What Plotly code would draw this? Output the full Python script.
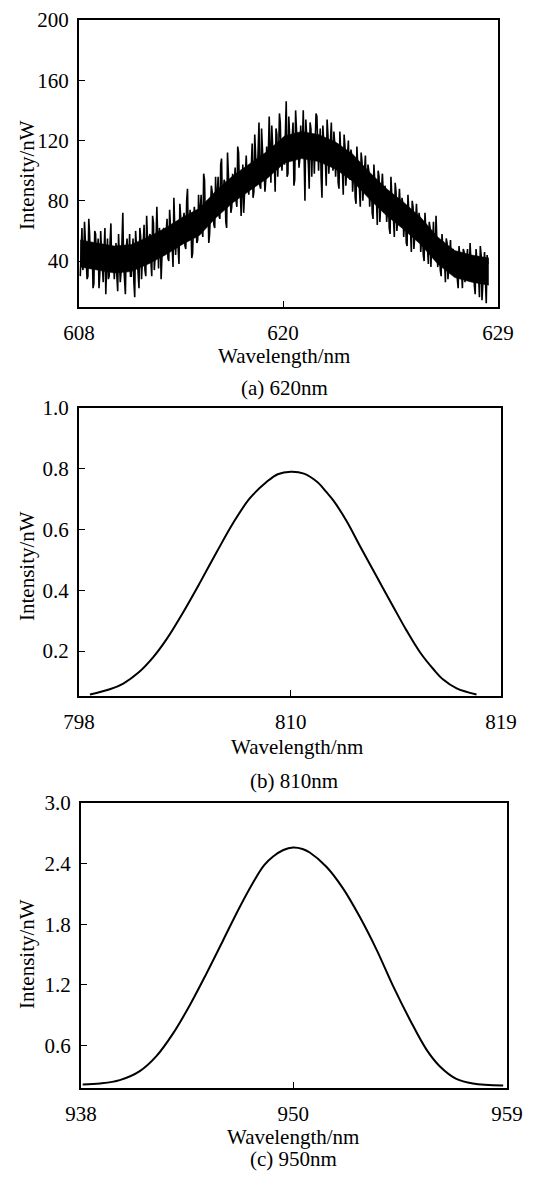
import numpy as np
import plotly.graph_objects as go

# window is 540x1177; the html body has an 8px margin, so the figure itself
# is made 8px smaller and every reference pixel position is shifted by 8px.
WIN_W, WIN_H = 540, 1177
OFF = 8
W, H = WIN_W - OFF, WIN_H - OFF
FONT = "Liberation Serif, Times New Roman, serif"

# ---------------- data ----------------
# Panel (a): noisy spectrum around 620 nm (intensity in nW)
# two interleaved reading passes of the dense noisy trace
a_intensity = [
    30, 62, 38, 55, 28, 68, 35, 50, 25, 58,
    40, 22, 60, 35, 48, 18, 55, 30, 65, 38,
    28, 52, 20, 45, 33, 72, 24, 48, 36, 58,
    30, 55, 16, 50, 38, 62, 28, 46, 34, 70,
    38, 58, 30, 65, 42, 76, 35, 55, 45, 62,
    46, 68, 40, 60, 50, 82, 44, 64, 38, 70,
    52, 72, 48, 88, 58, 66, 45, 76, 60, 54,
    64, 84, 56, 94, 68, 78, 58, 90, 70, 62,
    74, 96, 68, 108, 80, 92, 62, 100, 86, 76,
    84, 102, 76, 112, 88, 98, 72, 106, 94, 84,
    90, 118, 86, 108, 96, 132, 88, 112, 100, 94,
    100, 136, 92, 120, 106, 128, 96, 138, 108, 114,
    104, 146, 98, 124, 112, 132, 94, 128, 118, 108,
    110, 140, 80, 126, 104, 132, 96, 122, 112, 136,
    100, 128, 82, 118, 106, 134, 98, 120, 108, 126,
    96, 118, 88, 112, 100, 124, 90, 106, 96, 114,
    86, 108, 78, 100, 88, 112, 80, 96, 90, 104,
    76, 96, 68, 92, 80, 100, 66, 88, 78, 90,
    66, 84, 58, 80, 68, 92, 60, 76, 70, 82,
    56, 74, 50, 70, 60, 80, 48, 66, 58, 72,
    46, 62, 40, 58, 48, 66, 36, 52, 44, 70,
    36, 50, 30, 46, 40, 55, 28, 44, 34, 48,
    30, 44, 22, 40, 32, 48, 26, 38, 30, 52,
    28, 42, 18, 38, 30, 50, 14, 36, 24, 44,
]
a_intensity_b = [
    52, 34, 66, 42, 30, 58, 44, 22, 60, 40,
    55, 32, 46, 26, 62, 40, 28, 52, 34, 45,
    46, 30, 58, 26, 50, 38, 18, 55, 42, 30,
    48, 26, 60, 40, 22, 56, 44, 64, 30, 50,
    56, 40, 70, 34, 52, 46, 62, 28, 58, 48,
    60, 42, 74, 52, 36, 66, 56, 48, 78, 58,
    68, 50, 80, 56, 74, 42, 64, 70, 52, 84,
    76, 60, 98, 66, 80, 52, 74, 86, 64, 96,
    88, 70, 104, 78, 94, 66, 112, 84, 72, 98,
    96, 80, 116, 90, 70, 104, 86, 110, 92, 100,
    104, 82, 124, 98, 110, 90, 128, 102, 86, 116,
    112, 98, 130, 104, 86, 124, 110, 132, 100, 122,
    120, 96, 136, 110, 126, 90, 140, 116, 102, 130,
    118, 100, 134, 112, 88, 128, 118, 98, 138, 114,
    116, 96, 130, 110, 90, 124, 112, 132, 100, 118,
    108, 92, 126, 100, 84, 116, 104, 120, 94, 110,
    98, 82, 116, 92, 76, 106, 94, 110, 84, 100,
    88, 72, 104, 82, 64, 96, 84, 98, 72, 86,
    78, 62, 96, 72, 56, 86, 74, 88, 64, 78,
    68, 52, 84, 62, 46, 76, 64, 78, 54, 68,
    58, 44, 72, 50, 38, 62, 54, 66, 42, 56,
    46, 34, 58, 40, 26, 52, 42, 54, 32, 46,
    40, 28, 50, 34, 22, 46, 36, 48, 28, 40,
    36, 24, 48, 32, 16, 44, 30, 46, 12, 38,
]
# dense core of the noisy band (lower / upper edge, nW)
a_core_low = [36, 34, 32, 33, 38, 44, 51, 57, 69, 79, 87, 95, 105,
              108, 106, 101, 93, 81, 70, 61, 51, 38, 29, 26, 24]
a_core_high = [54, 52, 50, 51, 56, 62, 69, 75, 87, 97, 105, 113, 123,
               126, 124, 119, 111, 99, 88, 79, 69, 56, 47, 44, 42]
a_ticks = ["608", "620", "629"]
a_tickpos = [0.0, 0.487, 1.0]

# sample positions along the (index-based) wavelength axis, 0..1
n_a = len(a_intensity)
pos1 = np.linspace(0.003, 0.974, n_a)
step = pos1[1] - pos1[0]
pos2 = pos1 + step / 2
a_pos = np.empty(2 * n_a)
a_val = np.empty(2 * n_a)
a_pos[0::2], a_pos[1::2] = pos1, pos2
a_val[0::2], a_val[1::2] = a_intensity, a_intensity_b
a_core_pos = list(np.linspace(0.003, 0.978, len(a_core_low)))

# Panel (b): smooth spectrum around 810 nm
b_pos = [0.026, 0.073, 0.105, 0.141, 0.176, 0.208, 0.247, 0.287, 0.326, 0.366,
         0.405, 0.445, 0.471, 0.502, 0.533, 0.564, 0.587, 0.603, 0.634, 0.666,
         0.705, 0.745, 0.776, 0.808, 0.840, 0.863, 0.895, 0.942]
b_intensity = [0.057, 0.074, 0.093, 0.129, 0.180, 0.240, 0.328, 0.426, 0.525, 0.623,
               0.703, 0.757, 0.782, 0.790, 0.784, 0.757, 0.722, 0.695, 0.628, 0.545,
               0.446, 0.345, 0.268, 0.196, 0.140, 0.106, 0.077, 0.057]
b_ticks = ["798", "810", "819"]
b_tickpos = [0.0, 0.502, 1.0]

# Panel (c): smooth spectrum around 950 nm
c_pos = [0.004, 0.045, 0.091, 0.138, 0.177, 0.217, 0.256, 0.295, 0.334, 0.373,
         0.412, 0.430, 0.451, 0.475, 0.498, 0.520, 0.537, 0.576, 0.615, 0.654,
         0.694, 0.733, 0.772, 0.811, 0.842, 0.881, 0.920, 0.991]
c_intensity = [0.215, 0.225, 0.258, 0.347, 0.495, 0.725, 1.004, 1.317, 1.645, 1.974,
               2.270, 2.385, 2.470, 2.535, 2.560, 2.545, 2.510, 2.369, 2.155, 1.876,
               1.547, 1.185, 0.856, 0.560, 0.396, 0.271, 0.225, 0.205]
c_ticks = ["938", "950", "959"]
c_tickpos = [0.0, 0.498, 1.0]

captions = ["(a) 620nm", "(b) 810nm", "(c) 950nm"]
xtitle = "Wavelength/nm"
ytitle = "Intensity/nW"

# ---------------- layout helpers (reference pixel coords -> paper) ----------------
def px(x):
    return (x - OFF) / W

def py(y):
    return 1 - (y - OFF) / H

def dx(l, r):
    return [px(l), px(r)]

def dy(t, b):
    return [py(b), py(t)]

fig = go.Figure()
# dense core band of the noisy spectrum
fig.add_trace(go.Scatter(x=a_core_pos, y=a_core_low, mode="lines",
                         line=dict(color="black", width=0.5),
                         xaxis="x", yaxis="y", showlegend=False, hoverinfo="skip"))
fig.add_trace(go.Scatter(x=a_core_pos, y=a_core_high, mode="lines",
                         line=dict(color="black", width=0.5),
                         fill="tonexty", fillcolor="black",
                         xaxis="x", yaxis="y", showlegend=False, hoverinfo="skip"))
fig.add_trace(go.Scatter(x=a_pos, y=a_val, mode="lines",
                         line=dict(color="black", width=1.6),
                         xaxis="x", yaxis="y", showlegend=False))
fig.add_trace(go.Scatter(x=b_pos, y=b_intensity, mode="lines", line_shape="spline",
                         line=dict(color="black", width=2),
                         xaxis="x2", yaxis="y2", showlegend=False))
fig.add_trace(go.Scatter(x=c_pos, y=c_intensity, mode="lines", line_shape="spline",
                         line=dict(color="black", width=2),
                         xaxis="x3", yaxis="y3", showlegend=False))

tickfont = dict(family=FONT, size=21, color="black")

def xax(domain, anchor, tickpos, ticks):
    return dict(domain=domain, anchor=anchor, range=[0, 1], automargin=False,
                tickmode="array", tickvals=tickpos, ticktext=ticks,
                ticks="inside", ticklen=6, tickwidth=1, tickcolor="black",
                showline=True, mirror=True, linecolor="black", linewidth=2,
                showgrid=False, zeroline=False, tickfont=tickfont,
                ticklabelstandoff=6)

def yax(domain, anchor, rng, tickvals, ticktext):
    return dict(domain=domain, anchor=anchor, range=rng, automargin=False,
                tickmode="array", tickvals=tickvals, ticktext=ticktext,
                ticks="inside", ticklen=6, tickwidth=1, tickcolor="black",
                showline=True, mirror=True, linecolor="black", linewidth=2,
                showgrid=False, zeroline=False, tickfont=tickfont,
                ticklabelstandoff=4)

p1 = dict(l=79, r=498, t=20, b=307)
p2 = dict(l=79, r=501, t=408, b=696)
p3 = dict(l=81, r=507, t=803, b=1088)

fig.update_layout(
    width=W, height=H,
    margin=dict(l=0, r=0, t=0, b=0, pad=0, autoexpand=False),
    paper_bgcolor="white", plot_bgcolor="white",
    xaxis=xax(dx(p1["l"], p1["r"]), "y", a_tickpos, a_ticks),
    yaxis=yax(dy(p1["t"], p1["b"]), "x", [9.5, 200],
              [40, 80, 120, 160, 200], ["40", "80", "120", "160", "200"]),
    xaxis2=xax(dx(p2["l"], p2["r"]), "y2", b_tickpos, b_ticks),
    yaxis2=yax(dy(p2["t"], p2["b"]), "x2", [0.052, 1.0],
               [0.2, 0.4, 0.6, 0.8, 1.0], ["0.2", "0.4", "0.6", "0.8", "1.0"]),
    xaxis3=xax(dx(p3["l"], p3["r"]), "y3", c_tickpos, c_ticks),
    yaxis3=yax(dy(p3["t"], p3["b"]), "x3", [0.18, 3.0],
               [0.6, 1.2, 1.8, 2.4, 3.0], ["0.6", "1.2", "1.8", "2.4", "3.0"]),
)

annfont = dict(family=FONT, size=21, color="black")
anns = []
# x titles
for xc, yc in [(284, 356), (297, 747), (293, 1137)]:
    anns.append(dict(text=xtitle, x=px(xc), y=py(yc), xref="paper", yref="paper",
                     showarrow=False, font=annfont, xanchor="center", yanchor="middle"))
# y titles
for xc, yc in [(27, 175), (27, 566), (27, 954)]:
    anns.append(dict(text=ytitle, x=px(xc), y=py(yc), xref="paper", yref="paper",
                     showarrow=False, font=annfont, textangle=-90,
                     xanchor="center", yanchor="middle"))
# captions
for cap, xc, yc in zip(captions, [284, 294, 293], [388, 781, 1159]):
    anns.append(dict(text=cap, x=px(xc), y=py(yc), xref="paper", yref="paper",
                     showarrow=False, font=annfont, xanchor="center", yanchor="middle"))
fig.update_layout(annotations=anns)

fig.write_html("out.html")
